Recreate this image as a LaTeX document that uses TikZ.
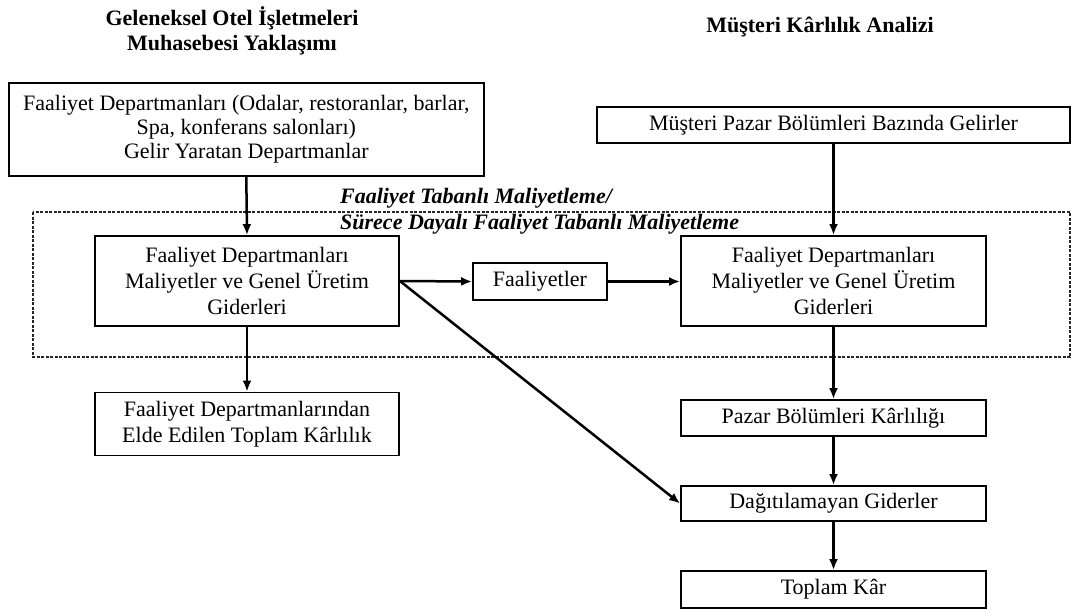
\documentclass[tikz,border=0pt]{standalone}
\usepackage{fontspec}
\setmainfont{Liberation Serif}
\usetikzlibrary{arrows.meta}

\tikzset{
  box/.style={draw=black, line width=1.8pt, inner sep=0pt, align=center,
    font=\fontsize{22}{26}\selectfont, text=black},
  flow/.style={line width=2.5pt, -{Latex[length=11pt,width=9pt]}},
  heading/.style={align=center, font=\fontsize{22}{25}\selectfont\bfseries},
  zone/.style={draw=black!85, line width=1.5pt, dash pattern=on 3pt off 1.5pt},
  zonelabel/.style={anchor=west, align=left, inner sep=0pt,
    font=\fontsize{22}{26}\selectfont\bfseries\itshape}
}

\begin{document}
\begin{tikzpicture}[x=1pt,y=-1pt]
  \useasboundingbox (0,0) rectangle (1071,610);

  % column headings
  \node[heading] (hl) at (232,31) {Geleneksel Otel İşletmeleri\\Muhasebesi Yaklaşımı};
  \node[heading] (hr) at (820,27) {Müşteri Kârlılık Analizi};

  % activity-based costing zone
  \draw[zone] (33,212) rectangle (1070,357);
  \node[zonelabel] (zl) at (340,211) {Faaliyet Tabanlı Maliyetleme/\\Sürece Dayalı Faaliyet Tabanlı Maliyetleme};

  % left column
  \node[box, minimum width=475pt, minimum height=93pt,
        font=\fontsize{22}{24}\selectfont] (a) at (246.3,129.5)
    {Faaliyet Departmanları (Odalar, restoranlar, barlar,\\Spa, konferans salonları)\\Gelir Yaratan Departmanlar\\[-18pt]\mbox{}};
  \node[box, minimum width=304pt, minimum height=90pt] (c) at (247,281)
    {Faaliyet Departmanları\\Maliyetler ve Genel Üretim\\Giderleri};
  \node[box, minimum width=304pt, minimum height=63pt] (f) at (247,424)
    {Faaliyet Departmanlarından\\Elde Edilen Toplam Kârlılık};

  % middle
  \node[box, minimum width=134pt, minimum height=37pt] (d) at (540,281.5) {Faaliyetler};

  % right column
  \node[box, minimum width=473pt, minimum height=36pt] (b) at (833.5,125)
    {Müşteri Pazar Bölümleri Bazında Gelirler};
  \node[box, minimum width=305pt, minimum height=90pt] (e) at (833.5,281)
    {Faaliyet Departmanları\\Maliyetler ve Genel Üretim\\Giderleri};
  \node[box, minimum width=305pt, minimum height=36pt] (g) at (833.5,418)
    {Pazar Bölümleri Kârlılığı};
  \node[box, minimum width=305pt, minimum height=35pt] (h) at (833.5,503.5)
    {Dağıtılamayan Giderler};
  \node[box, minimum width=305pt, minimum height=37pt] (i) at (833.5,589.5)
    {Toplam Kâr};

  % connectors
  \draw[flow] (a.south) -- (c.north);
  \draw[flow] (c.south) -- (f.north);
  \draw[flow] (c.east) -- (d.west);
  \draw[flow] (d.east) -- (e.west |- d.east);
  \draw[flow] (c.east) -- (h.west);
  \draw[flow] (b.south) -- (e.north);
  \draw[flow] (e.south) -- (g.north);
  \draw[flow] (g.south) -- (h.north);
  \draw[flow] (h.south) -- (i.north);
\end{tikzpicture}
\end{document}
